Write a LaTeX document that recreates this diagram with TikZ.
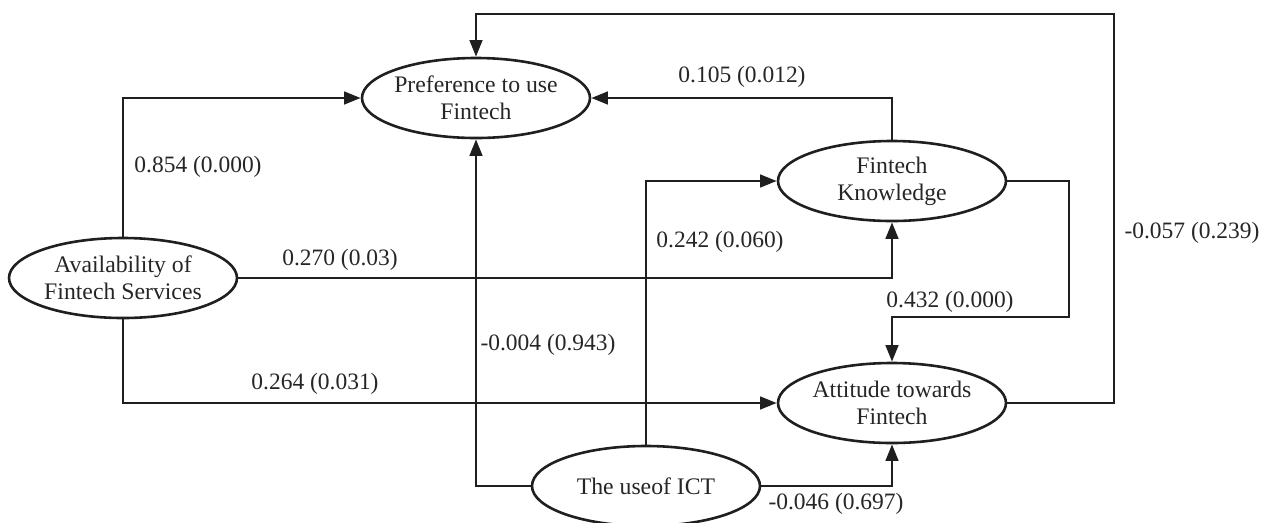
\documentclass[tikz,border=0pt]{standalone}
\usepackage{fontspec}
\setmainfont{Liberation Serif}
\usetikzlibrary{shapes.geometric,arrows.meta}
\begin{document}
\begin{tikzpicture}[x=0.75pt,y=-0.75pt,
  ln/.style={line width=1.95pt, draw=black!88},
  arr/.style={ln, -{Triangle[length=12.5pt,width=9.5pt]}},
  elli/.style={ellipse, draw=black!88, line width=1.95pt, minimum width=171pt, minimum height=60pt,
    inner xsep=-14pt, inner ysep=0pt, align=center, text=black!85,
    font=\fontsize{17.8}{20.3}\selectfont},
  lab/.style={font=\fontsize{17.6}{20}\selectfont, inner sep=0pt, text=black!85}]
\useasboundingbox (0,0) rectangle (1265,522);
\node[elli] (pref)  at (476,98)  {Preference to use\\Fintech};
\node[elli] (know)  at (892,181) {Fintech\\Knowledge};
\node[elli] (avail) at (123,278) {Availability of\\Fintech Services};
\node[elli] (att)   at (892,403) {Attitude towards\\Fintech};
\node[elli] (ict)   at (646,486) {The useof ICT};
\coordinate (k1) at (1069,317);
\coordinate (a1) at (1114,14);
\draw[arr] (avail.north) |- (pref.west);
\draw[arr] (avail.east) -| (know.south);
\draw[arr] (avail.south) |- (att.west);
\draw[arr] (ict.north) |- (know.west);
\draw[arr] (ict.west) -| (pref.south);
\draw[arr] (ict.east) -| (att.south);
\draw[arr] (know.north) |- (pref.east);
\draw[arr] (know.east) -| (k1) -| (att.north);
\draw[arr] (att.east) -| (a1) -| (pref.north);
\node[lab] (l1) at (742,77)  {0.105 (0.012)};
\node[lab] (l2) at (198,167) {0.854 (0.000)};
\node[lab] (l3) at (340,260) {0.270 (0.03)};
\node[lab] (l4) at (720,242) {0.242 (0.060)};
\node[lab] (l5) at (950,302) {0.432 (0.000)};
\node[lab] (l6) at (548,345) {-0.004 (0.943)};
\node[lab] (l7) at (315,384) {0.264 (0.031)};
\node[lab] (l8) at (836,504) {-0.046 (0.697)};
\node[lab] (l9) at (1192,233) {-0.057 (0.239)};
\end{tikzpicture}
\end{document}
